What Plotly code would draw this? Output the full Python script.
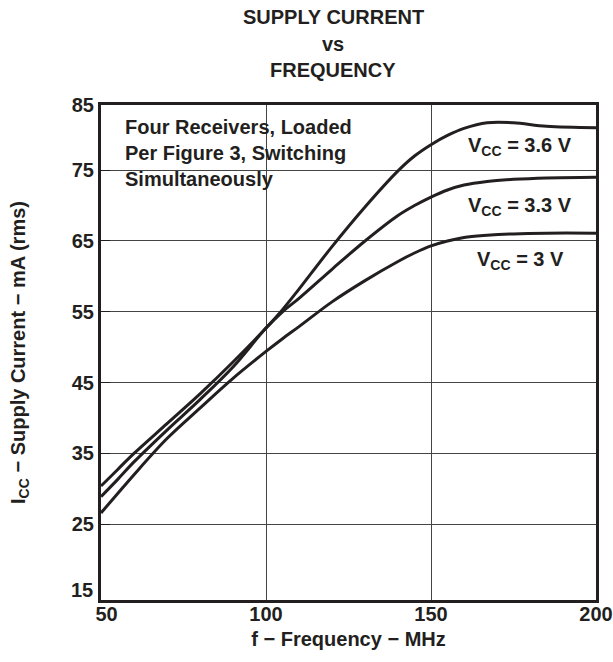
import plotly.graph_objects as go

freq = [50, 55, 60, 70, 80, 90, 100, 105, 110, 120, 130, 140, 145, 150, 155, 160, 167, 175, 185, 200]
icc_36 = [30.4, 32.7, 35.0, 39.2, 43.4, 47.9, 52.7, 55.3, 58.2, 64.2, 69.8, 74.9, 77.0, 78.6, 79.9, 80.9, 81.7, 81.7, 81.2, 81.0]
icc_33 = [28.9, 31.3, 33.8, 38.3, 42.6, 47.2, 52.7, 55.0, 56.9, 61.0, 65.0, 68.6, 70.0, 71.2, 72.2, 72.9, 73.4, 73.7, 73.9, 74.0]
icc_30 = [26.6, 29.3, 32.0, 37.1, 41.4, 45.6, 49.4, 51.2, 52.9, 56.4, 59.4, 62.1, 63.3, 64.3, 65.0, 65.5, 65.8, 66.0, 66.1, 66.1]

series_names = ["V<sub>CC</sub> = 3.6 V", "V<sub>CC</sub> = 3.3 V", "V<sub>CC</sub> = 3 V"]
label_x = [177.0, 177.0, 177.0]
label_y = [78.3, 69.8, 62.3]

x_tick_vals = [50, 100, 150, 200]
x_tick_text = ["&nbsp;&nbsp;50", "100", "150", "200"]
y_tick_vals = [25, 35, 45, 55, 65, 75, 84.2]
y_tick_text = ["25", "35", "45", "55", "65", "75", "85"]
y_bottom_label = "15"

title_lines = ["SUPPLY CURRENT", "vs", "FREQUENCY"]
title_y_paper = [1.178, 1.123, 1.071]
note_text = "Four Receivers, Loaded<br>Per Figure 3, Switching<br>Simultaneously"

INK = "#231f20"
FONT = "Liberation Sans, Arial, sans-serif"
W, H = 613, 662

fig = go.Figure()
for ys in (icc_36, icc_33, icc_30):
    fig.add_trace(go.Scatter(x=freq, y=ys, mode="lines",
                             line=dict(color=INK, width=3, shape="spline", smoothing=1.0),
                             showlegend=False, hoverinfo="skip"))

for name, lx, ly in zip(series_names, label_x, label_y):
    fig.add_annotation(x=lx, y=ly, xref="x", yref="y", text="<b>" + name + "</b>",
                       showarrow=False, font=dict(family=FONT, size=20, color=INK))

for line, py in zip(title_lines, title_y_paper):
    fig.add_annotation(x=0.469, y=py, xref="paper", yref="paper",
                       text="<b>" + line + "</b>", showarrow=False,
                       xanchor="center", yanchor="middle",
                       font=dict(family=FONT, size=20, color=INK))

fig.add_annotation(x=0.044, y=0.981, xref="paper", yref="paper", text="<b>" + note_text + "</b>",
                   showarrow=False, xanchor="left", yanchor="top", align="left",
                   font=dict(family=FONT, size=20, color=INK))

fig.add_annotation(x=-0.012, y=0.02, xref="paper", yref="paper", text="<b>" + y_bottom_label + "</b>",
                   showarrow=False, xanchor="right", yanchor="middle",
                   font=dict(family=FONT, size=20, color=INK))

fig.add_shape(type="rect", xref="paper", yref="paper", x0=0.018, x1=0.568, y0=0.816, y1=0.995,
              fillcolor="white", line=dict(width=0), layer="between")

fig.update_layout(
    width=W, height=H,
    margin=dict(l=101, r=17, t=105, b=62, autoexpand=False),
    paper_bgcolor="white", plot_bgcolor="white",
    font=dict(family=FONT, size=20, color=INK),
)
fig.update_xaxes(range=[50, 200], tickvals=x_tick_vals, ticktext=["<b>%s</b>" % t for t in x_tick_text],
                 showgrid=True, gridcolor="#444444", gridwidth=1,
                 showline=True, linecolor=INK, linewidth=3, mirror=True,
                 ticks="", zeroline=False, ticklabelstandoff=-6, automargin=False,
                 title=dict(text="<b>f − Frequency − MHz</b>", standoff=8,
                            font=dict(family=FONT, size=20, color=INK)))
fig.update_yaxes(range=[14.3, 84.2], tickvals=y_tick_vals, ticktext=["<b>%s</b>" % t for t in y_tick_text],
                 showgrid=True, gridcolor="#444444", gridwidth=1,
                 showline=True, linecolor=INK, linewidth=3, mirror=True,
                 ticks="inside", ticklen=9, tickcolor=INK, tickwidth=1,
                 zeroline=False, ticklabelstandoff=0, automargin=False,
                 title=dict(text="<b>I<sub>CC</sub> − Supply Current − mA (rms)</b>", standoff=41,
                            font=dict(family=FONT, size=20, color=INK)))

fig.write_html("out.html", config={"displayModeBar": False},
               post_script="document.body.style.margin='0px'; document.body.style.overflow='hidden';")
